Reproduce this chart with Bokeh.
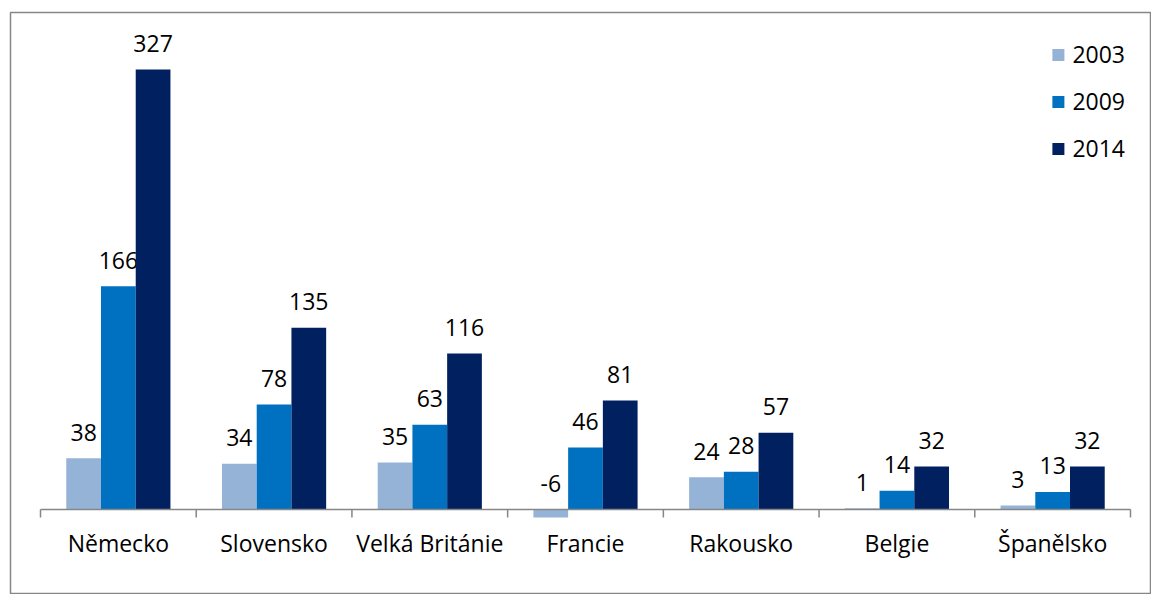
import numpy as np
from bokeh.plotting import figure
from bokeh.models import Range1d, ColumnDataSource, Legend, LegendItem
from bokeh.core.properties import value
from bokeh.embed import file_html
from bokeh.resources import INLINE

countries = ["Německo", "Slovensko", "Velká Británie", "Francie", "Rakousko", "Belgie", "Španělsko"]
years = ["2003", "2009", "2014"]
v2003 = [38, 34, 35, -6, 24, 1, 3]
v2009 = [166, 78, 63, 46, 28, 14, 13]
v2014 = [327, 135, 116, 81, 57, 32, 32]
colors = ["#95B3D7", "#0070C0", "#002060"]

FONT = "Open Sans"
FS = "23px"
GRAY = "#868686"

n = len(countries)
p = figure(width=1151, height=594, output_backend="svg", toolbar_location=None,
           x_axis_location=None, y_axis_location=None,
           x_range=Range1d(-0.6927, n - 0.5 + 0.1349),
           y_range=Range1d(-63.2, 369.4),
           min_border_left=10, min_border_top=12, min_border_right=0, min_border_bottom=0)
p.xgrid.visible = False
p.ygrid.visible = False
p.outline_line_color = GRAY
p.outline_line_width = 1.5
p.background_fill_color = "white"
p.border_fill_color = "white"

bw = 0.223
offsets = [-bw, 0.0, bw]
series = [v2003, v2009, v2014]
x = np.arange(n)
items = []
for yr, vals, off, col in zip(years, series, offsets, colors):
    src = ColumnDataSource(dict(x=x + off, top=vals,
                                ly=[max(v, 0) for v in vals],
                                txt=[str(v) for v in vals]))
    r = p.vbar(x="x", top="top", bottom=0, width=bw, source=src,
               fill_color=col, line_color=None)
    p.text(x="x", y="ly", text="txt", source=src, text_align="center",
           text_baseline="alphabetic", y_offset=-26, text_font=value(FONT),
           text_font_size=FS, text_color="black")
    items.append(LegendItem(label=yr, renderers=[r]))

# category axis (zero line with ticks between categories)
bounds = np.arange(n + 1) - 0.5
p.segment(x0=[bounds[0]], y0=[0], x1=[bounds[-1]], y1=[0], line_color=GRAY, line_width=1.5)
p.ray(x=bounds, y=np.zeros(n + 1), length=8, length_units="screen", angle=-np.pi / 2,
      line_color=GRAY, line_width=1.5)
p.text(x=x, y=np.zeros(n), text=countries, text_align="center", text_baseline="alphabetic",
       y_offset=34, text_font=value(FONT), text_font_size=FS, text_color="black")

legend = Legend(items=items, location="top_right", orientation="vertical",
                label_text_font=FONT, label_text_font_size=FS, label_text_color="black",
                glyph_width=15, glyph_height=15, label_standoff=7,
                spacing=15, padding=0, margin=26,
                border_line_color=None, background_fill_alpha=0)
p.add_layout(legend, "center")

open("out.html", "w").write(file_html(p, INLINE))
